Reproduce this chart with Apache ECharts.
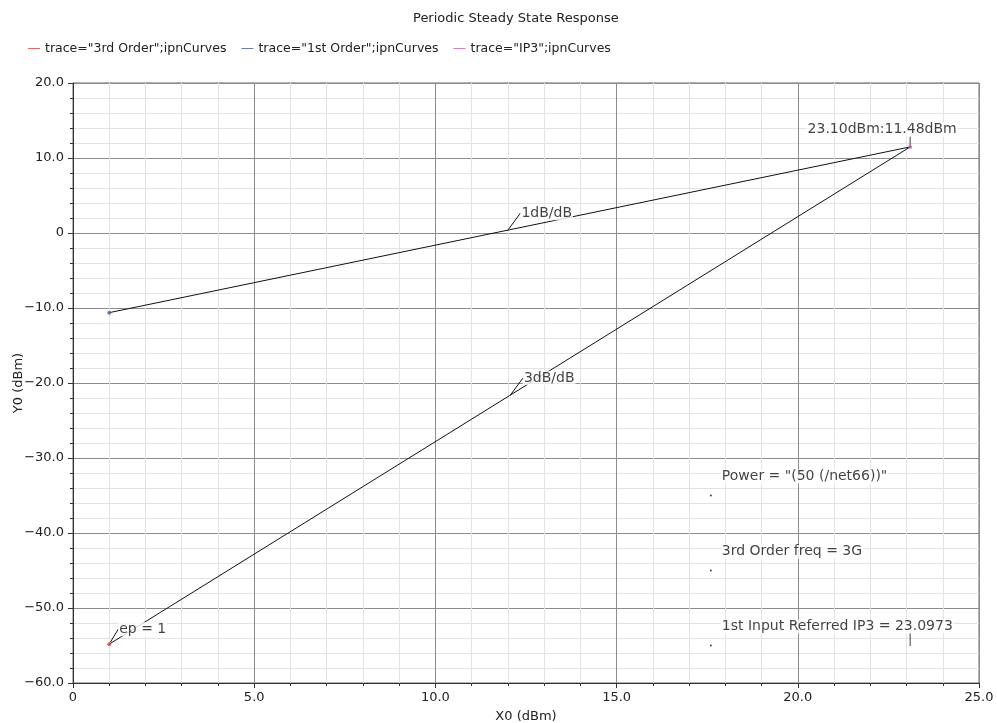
<!DOCTYPE html>
<html>
<head>
<meta charset="utf-8">
<title>Periodic Steady State Response</title>
<script src="https://cdn.jsdelivr.net/npm/echarts@6/dist/echarts.min.js"></script>
<style>
  html, body { margin: 0; padding: 0; background: #fff; }
  #chart { width: 997px; height: 723px; }
</style>
</head>
<body>
<div id="chart"></div>
<script>
// trace names and colours (legend)
var traceNames = ['trace="3rd Order";ipnCurves', 'trace="1st Order";ipnCurves', 'trace="IP3";ipnCurves'];
var traceColors = ['#e0403f', '#4b5ca8', '#c563b0'];

// extrapolated lines, [X0, Y0]
var firstOrderLine = [[1.0, -10.62], [23.1, 11.48]];
var thirdOrderLine = [[1.0, -54.82], [23.1, 11.48]];
var ip3Point = [23.1, 11.48];

// slope labels sit on the lines
var slopeLabels = ['1dB/dB', '3dB/dB'];
var slopeAnchors = [[12.0, 0.38], [12.07, -21.61]];

// info markers on the right
var infoX = 17.6;
var infoY = [-35, -45, -55];
var infoText = ['Power = "(50 (/net66))"', '3rd Order freq = 3G', '1st Input Referred IP3 = 23.0973'];
var ip3Marker = [23.1, -55];

var font = 'DejaVu Sans';

function tickFmt(v) {
    if (v === 0) return '0';
    return v.toFixed(1).replace('-', '\u2212');
}

var chartDom = document.getElementById('chart');
var myChart = echarts.init(chartDom);

var slopeData = [];
for (var i = 0; i < slopeLabels.length; i++) {
    slopeData.push({ value: slopeAnchors[i], name: slopeLabels[i] });
}
var infoData = [];
for (var k = 0; k < infoY.length; k++) {
    infoData.push({ value: [infoX, infoY[k]], name: infoText[k] });
}
var legendData = [];
for (var n = 0; n < traceNames.length; n++) {
    legendData.push({ name: traceNames[n], itemStyle: { color: traceColors[n] } });
}

var axisCommon = {
    axisLine: { show: true, onZero: false, lineStyle: { color: '#333', width: 1 } },
    axisTick: { show: true, length: 5, lineStyle: { color: '#333' } },
    minorTick: { show: true, splitNumber: 5, length: 3, lineStyle: { color: '#333' } },
    splitLine: { show: true, lineStyle: { color: '#8c8c8c', width: 1 } },
    minorSplitLine: { show: true, lineStyle: { color: '#e3e3e3', width: 1 } },
    nameMoveOverlap: false,
    nameTextStyle: { color: '#222', fontFamily: font, fontSize: 13 }
};

var labelBox = {
    color: '#111',
    fontFamily: font,
    fontSize: 14,
    backgroundColor: '#fff',
    padding: [0, 1]
};

var option = {
    animation: false,
    title: {
        text: 'Periodic Steady State Response',
        left: 408,
        top: 7,
        textStyle: { fontFamily: font, fontSize: 13, fontWeight: 'normal', color: '#222' }
    },
    legend: {
        data: legendData,
        left: 23,
        top: 37,
        icon: 'rect',
        itemWidth: 12,
        itemHeight: 1,
        itemGap: 15,
        textStyle: { fontFamily: font, fontSize: 12.5, color: '#222' }
    },
    grid: {
        left: 73,
        right: 18,
        top: 83,
        bottom: 40,
        outerBoundsMode: 'none',
        show: true,
        borderColor: '#666',
        borderWidth: 1
    },
    xAxis: echarts.util.merge({
        type: 'value',
        min: 0,
        max: 25,
        interval: 5,
        name: 'X0 (dBm)',
        nameLocation: 'middle',
        nameGap: 27,
        axisLabel: { formatter: tickFmt, color: '#222', fontFamily: font, fontSize: 13, margin: 8 }
    }, axisCommon, true),
    yAxis: echarts.util.merge({
        type: 'value',
        min: -60,
        max: 20,
        interval: 10,
        name: 'Y0 (dBm)',
        nameLocation: 'middle',
        nameGap: 48,
        axisLabel: { formatter: tickFmt, color: '#222', fontFamily: font, fontSize: 13, margin: 9 }
    }, axisCommon, true),
    series: [
        {
            type: 'line',
            data: firstOrderLine,
            symbol: 'none',
            silent: true,
            lineStyle: { color: '#111', width: 1 },
            z: 2
        },
        {
            type: 'line',
            data: thirdOrderLine,
            symbol: 'none',
            silent: true,
            lineStyle: { color: '#111', width: 1 },
            z: 2
        },
        {
            name: traceNames[0],
            type: 'scatter',
            data: [thirdOrderLine[0]],
            symbolSize: 4,
            itemStyle: { color: traceColors[0] },
            label: echarts.util.merge({ show: true, position: 'right', distance: 3, formatter: 'ep = 1' }, labelBox, true),
            labelLayout: { dx: 4, dy: -15 },
            labelLine: { show: true, lineStyle: { color: '#111', width: 1 } },
            z: 5
        },
        {
            name: traceNames[1],
            type: 'scatter',
            data: [firstOrderLine[0]],
            symbolSize: 4,
            itemStyle: { color: traceColors[1] },
            z: 5
        },
        {
            // short vertical leader above the IP3 point
            type: 'scatter',
            data: [ip3Point],
            symbol: 'rect',
            symbolSize: [1, 11],
            symbolOffset: [0, -5],
            itemStyle: { color: '#111' },
            label: echarts.util.merge({
                show: true, position: 'top', distance: 0, offset: [-28, 0],
                formatter: function (p) { return p.value[0].toFixed(2) + 'dBm:' + p.value[1].toFixed(2) + 'dBm'; }
            }, labelBox, true),
            z: 4
        },
        {
            name: traceNames[2],
            type: 'scatter',
            data: [ip3Point],
            symbolSize: 4,
            itemStyle: { color: traceColors[2] },
            z: 5
        },
        {
            type: 'scatter',
            data: slopeData,
            symbolSize: 1,
            itemStyle: { color: '#111' },
            label: echarts.util.merge({ show: true, position: 'right', distance: 3, formatter: '{b}' }, labelBox, true),
            labelLayout: { dx: 9, dy: -17 },
            labelLine: { show: true, lineStyle: { color: '#111', width: 1 } },
            z: 4
        },
        {
            type: 'scatter',
            data: infoData,
            symbolSize: 2,
            itemStyle: { color: '#111' },
            label: echarts.util.merge({ show: true, position: [11, -25], formatter: '{b}' }, labelBox, true),
            z: 4
        },
        {
            type: 'scatter',
            data: [ip3Marker],
            symbol: 'rect',
            symbolSize: [1, 13],
            symbolOffset: [0, -6],
            itemStyle: { color: '#111' },
            z: 4
        }
    ]
};

myChart.setOption(option);
</script>
</body>
</html>
